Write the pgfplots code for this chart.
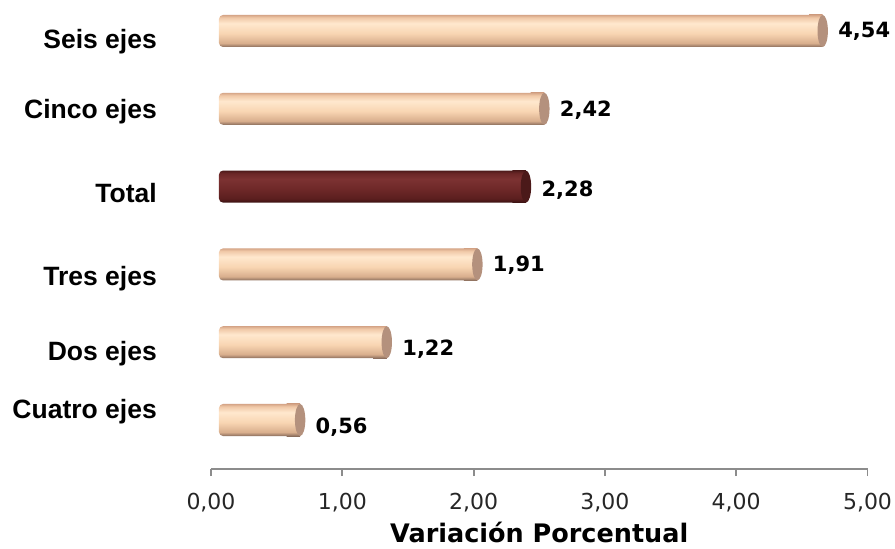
\documentclass[border=0pt]{standalone}
\usepackage{pgfplots}
\pgfplotsset{compat=1.18}
\usepackage{fontspec}
\setmainfont{DejaVu Sans}
\newfontfamily\arialfont{Liberation Sans}

\definecolor{pTop}{HTML}{D6A688}
\definecolor{pTopIn}{HTML}{F0C8A7}
\definecolor{pHi}{HTML}{FFE8CE}
\definecolor{pMid}{HTML}{F8D5B2}
\definecolor{pLow}{HTML}{D8AE8D}
\definecolor{pBot}{HTML}{8A6D5C}
\definecolor{capPeach}{HTML}{B4917D}
\definecolor{mTop}{HTML}{4E1A1A}
\definecolor{mTopIn}{HTML}{6A2626}
\definecolor{mHi}{HTML}{7C3232}
\definecolor{mMid}{HTML}{6E2828}
\definecolor{mLow}{HTML}{5A1E1E}
\definecolor{mBot}{HTML}{3A1212}
\definecolor{capMaroon}{HTML}{4B1919}
\definecolor{axisgray}{HTML}{8C8C8C}

\pgfdeclareverticalshading{peachcyl}{100bp}{color(0bp)=(pBot); color(25bp)=(pBot); color(31bp)=(pLow); color(46bp)=(pMid); color(62bp)=(pHi); color(71bp)=(pTopIn); color(75bp)=(pTop); color(100bp)=(pTop)}
\pgfdeclareverticalshading{maroncyl}{100bp}{color(0bp)=(mBot); color(25bp)=(mBot); color(31bp)=(mLow); color(46bp)=(mMid); color(62bp)=(mHi); color(71bp)=(mTopIn); color(75bp)=(mTop); color(100bp)=(mTop)}

\pgfdeclareplotmark{cappeach}{%
  \shade[shading=peachcyl, draw=none] (-6pt,-16pt) rectangle (7.6pt,16pt);
  \fill[capPeach, draw=none] (7.6pt,0pt) ellipse [x radius=5.2pt, y radius=16pt];
}
\pgfdeclareplotmark{capmaroon}{%
  \shade[shading=maroncyl, draw=none] (-6pt,-16pt) rectangle (7.6pt,16pt);
  \fill[capMaroon, draw=none] (7.6pt,0pt) ellipse [x radius=5.2pt, y radius=16pt];
}

\pgfplotstableread{
x y
0.56 0
1.22 1
1.91 2
2.42 4
4.54 5
}\peach
\pgfplotstableread{
x y
2.28 3
}\total
\pgfplotstableread{
x y lab
0.56 -0.077 0,56
1.22 0.923 1,22
1.91 2.0 1,91
2.28 2.97 2,28
2.42 4.0 2,42
4.54 5.01 4,54
}\labels

\begin{document}
\begin{tikzpicture}
\path[use as bounding box] (-211pt,-129pt) rectangle (684pt,420pt);
\begin{axis}[
  at={(0,0)}, anchor=origin,
  x=131.3pt, y=77.8pt,
  xmin=0, xmax=5, ymin=-0.63, ymax=5.4,
  clip=false,
  axis x line*=bottom,
  axis y line*=left,
  y axis line style={draw=none},
  x axis line style={draw=axisgray, line width=2.2pt},
  xtick={0,1,2,3,4,5},
  xticklabels={{0,00},{1,00},{2,00},{3,00},{4,00},{5,00}},
  xtick align=outside,
  major tick length=7pt,
  xtick style={draw=axisgray, line width=1.8pt},
  ytick style={draw=none},
  ytick={0.013,0.77,1.735,2.79,3.88,4.77},
  yticklabels={Cuatro ejes,Dos ejes,Tres ejes,Total,Cinco ejes,Seis ejes},
  yticklabel style={anchor=base east, inner sep=0pt, xshift=-54pt,
    font=\arialfont\bfseries\fontsize{26.5}{30}\selectfont, text=black},
  xticklabel style={anchor=base, inner sep=0pt, yshift=-33pt,
    font=\fontsize{22}{26}\selectfont, text=black!85},
  xlabel={Variación Porcentual},
  xlabel style={at={(axis description cs:0.5,0)}, anchor=base, inner sep=0pt,
    yshift=-73pt, font=\bfseries\fontsize{25.5}{30}\selectfont},
  cylbar/.style={xbar, bar width=32pt, bar shift=0pt, draw=none,
    rounded corners=4pt, xshift=8pt},
]
\addplot[cylbar, shading=peachcyl] coordinates {(0.56,0)};
\addplot[cylbar, shading=peachcyl] coordinates {(1.22,1)};
\addplot[cylbar, shading=peachcyl] coordinates {(1.91,2)};
\addplot[cylbar, shading=maroncyl] coordinates {(2.28,3)};
\addplot[cylbar, shading=peachcyl] coordinates {(2.42,4)};
\addplot[cylbar, shading=peachcyl] coordinates {(4.54,5)};
\addplot[only marks, mark=cappeach, xshift=8pt] table[x=x, y=y] {\peach};
\addplot[only marks, mark=capmaroon, xshift=8pt] table[x=x, y=y] {\total};
\addplot[draw=none, mark=none, nodes near coords, point meta=explicit symbolic,
  nodes near coords style={anchor=base west, inner sep=0pt, xshift=31pt,
    yshift=-7.6pt, font=\bfseries\fontsize{21}{25}\selectfont, text=black}]
  table[x=x, y=y, meta=lab] {\labels};
\end{axis}
\end{tikzpicture}
\end{document}
